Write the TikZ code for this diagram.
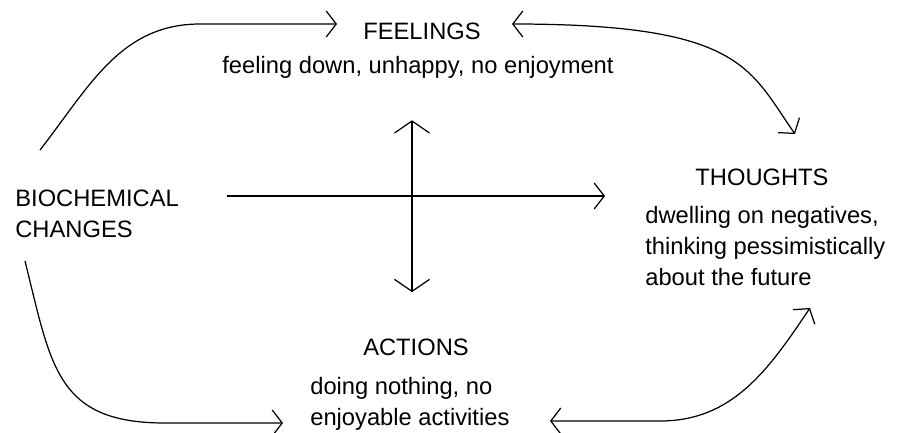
\documentclass[tikz,border=0pt]{standalone}
\usepackage{fontspec}
\setmainfont{Liberation Sans}
\usetikzlibrary{arrows.meta}

\begin{document}
\begin{tikzpicture}[
    x=0.02cm, y=-0.02cm,
    heading/.style={
        inner sep=0pt,
        anchor=base,
        font=\fontsize{13.5}{17.6}\selectfont
    },
    detail/.style={
        inner sep=0pt,
        align=left,
        anchor=west,
        font=\fontsize{13.5}{17.6}\selectfont
    },
    link/.style={line width=0.7pt, -{Straight Barb[length=2mm, width=5.2mm]}},
    twoway/.style={line width=0.7pt, {Straight Barb[length=2mm, width=5.2mm]}-{Straight Barb[length=2mm, width=5.2mm]}},
    crossway/.style={line width=0.7pt, {Straight Barb[length=2.4mm, width=7mm]}-{Straight Barb[length=2.4mm, width=7mm]}}
]

\useasboundingbox (0,0) rectangle (900,433);

\node[detail] (biochemical) at (15,214) {BIOCHEMICAL\\CHANGES};

\node[heading] (feelings) at (422,39) {FEELINGS};
\node[heading] (feelings_text) at (418,73) {feeling down, unhappy, no enjoyment};

\node[heading] (thoughts) at (762,185) {THOUGHTS};
\node[detail] (thoughts_text) at (645,246) {dwelling on negatives,\\thinking pessimistically\\about the future};

\node[heading] (actions) at (416,355) {ACTIONS};
\node[detail] (actions_text) at (310,404) {doing nothing, no\\enjoyable activities};

\coordinate (hub) at (412,196);

\draw[link] ([shift={(25,-64)}]biochemical.west) to[out=52, in=180] ++(160,-126) -- ([shift={(-26,-15)}]feelings.base west);
\draw[link] ([shift={(10,47)}]biochemical.west) to[out=-76, in=180, looseness=1.3] ++(140,162) -- ([shift={(-27,19)}]actions_text.west);
\draw[twoway] ([shift={(31,-15)}]feelings.base east) to[out=0, in=125, out distance=4.6cm, in distance=1.6cm] ([shift={(33,-51)}]thoughts.base);
\draw[twoway] ([shift={(240,17)}]actions_text.west) -- ++(110,0) to[out=0, in=236] ([shift={(165,62)}]thoughts_text.west);

\draw[link, shorten <=0.96cm, shorten >=0.8cm] (hub -| biochemical.east) -- (hub -| thoughts_text.west);
\draw[crossway, shorten <=0.84cm, shorten >=0.92cm] (hub |- feelings_text.south) -- (hub |- actions.north);

\end{tikzpicture}
\end{document}
